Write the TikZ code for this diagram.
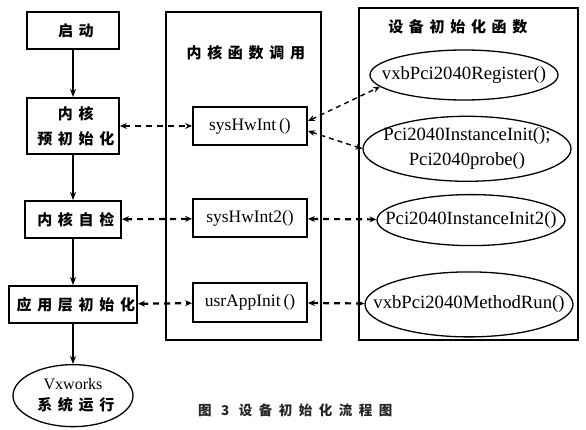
\documentclass[tikz,border=0pt]{standalone}
\usepackage{fontspec}
\setmainfont{Liberation Serif}
\newfontfamily\heiti[LetterSpace=38]{Noto Sans CJK SC}
\newfontfamily\captionhei[LetterSpace=48]{Noto Sans CJK SC}
\usepackage{tikz}
\usetikzlibrary{arrows.meta, positioning, shapes.geometric}
\newcommand{\cjkb}{\heiti\bfseries\fontsize{15}{25}\selectfont}
\newcommand{\zh}[1]{\hspace*{.38em}#1}
\tikzset{
  flowbox/.style={draw, line width=2pt, inner sep=0pt, align=center,
                  minimum height=37pt, font=\cjkb},
  funcbox/.style={draw, line width=2pt, inner sep=0pt, minimum width=114pt,
                  minimum height=38pt, font=\fontsize{17.5}{20}\selectfont},
  funcell/.style={ellipse, draw, line width=1.3pt, inner xsep=-30pt,
                  inner ysep=0pt, align=center,
                  font=\fontsize{18.7}{25}\selectfont},
  groupframe/.style={draw, line width=2pt, inner sep=0pt},
  grouptitle/.style={inner sep=0pt, font=\cjkb},
  flow/.style={-{Stealth[length=8pt, width=6pt, inset=2.5pt]}, line width=1.5pt},
  call/.style={{Stealth[length=7pt, width=6pt, inset=2.5pt]}-{Stealth[length=7pt, width=6pt, inset=2.5pt]},
               line width=2.2pt, dash pattern=on 6pt off 5pt},
  link/.style={{Stealth[length=7pt, width=6pt, inset=2.5pt]}-{Stealth[length=7pt, width=6pt, inset=2.5pt]},
               line width=1.4pt, dash pattern=on 5pt off 4pt},
}

\begin{document}
\begin{tikzpicture}[x=1pt, y=1pt]
  \useasboundingbox (0,0) rectangle (586,-430);

  % --- Frames ---
  \node[groupframe, minimum width=155pt, minimum height=327pt]
    (kframe) at (243,-176) {};
  \node[grouptitle, below=34pt of kframe.north] (ktitle) {\zh{内核函数调用}};
  \node[groupframe, minimum width=219pt, minimum height=331pt]
    (dframe) at (468,-174) {};
  \node[grouptitle] (dtitle) at (455,-27) {\zh{设备初始化函数}};

  % --- Boot flow ---
  \node[flowbox, minimum width=92pt] (start) at (73,-30.5) {\zh{启动}};
  \node[flowbox, minimum width=92pt, minimum height=56pt, below=47pt of start]
    (preinit) {\zh{内核}\\\zh{预初始化}};
  \node[flowbox, minimum width=96pt, below=45pt of preinit]
    (selftest) {\zh{内核自检}};
  \node[flowbox, minimum width=128pt, below=46pt of selftest]
    (appinit) {\zh{应用层初始化}};
  \node[ellipse, draw, line width=1.3pt, inner sep=0pt, minimum width=120pt,
        minimum height=62pt, align=center, below=40pt of appinit,
        font=\fontsize{16}{21}\selectfont]
    (vxrun) {Vxworks\\{\cjkb\zh{系统运行}}};

  % --- Kernel calls ---
  \node[funcbox, right=72pt of preinit] (syshw) {sysHwInt\,()};
  \node[funcbox, below=52.5pt of syshw] (syshw2) {sysHwInt2()};
  \node[funcbox, below=44pt of syshw2] (usrapp) {usrAppInit\,()};

  % --- Device init functions ---
  \node[funcell, minimum width=188pt, minimum height=50pt]
    (reg) at (464,-75) {vxbPci2040Register()};
  \node[funcell, minimum width=208pt, minimum height=65pt, below=15pt of reg,
        xshift=3pt]
    (probe) {Pci2040InstanceInit();\\Pci2040probe()};
  \node[funcell, minimum width=188pt, minimum height=51pt, below=12pt of probe,
        xshift=4pt]
    (init2) {Pci2040InstanceInit2()};
  \node[funcell, minimum width=208pt, minimum height=65pt, below=25pt of init2,
        xshift=-2pt]
    (methodrun) {vxbPci2040MethodRun()};

  % --- Arrows ---
  \draw[flow] (start) -- (preinit);
  \draw[flow] (preinit) -- (selftest);
  \draw[flow] (selftest) -- (appinit);
  \draw[flow] (appinit) -- (vxrun);

  \draw[call] (preinit) -- (syshw);
  \draw[call] (selftest) -- (syshw2);
  \draw[call] (appinit) -- (usrapp);

  \draw[link] ([yshift=5pt]syshw.east) -- (reg.188);
  \draw[link] ([yshift=-5pt]syshw.east) -- (probe.west);
  \draw[call] (syshw2) -- (init2);
  \draw[call] (usrapp) -- (methodrun);

  % --- Caption ---
  \node[inner sep=0pt, text=black!85,
        font=\captionhei\bfseries\fontsize{13.5}{14}\selectfont]
    (caption) at (292,-410) {\hspace*{.48em}图 3 设备初始化流程图};

\end{tikzpicture}
\end{document}
